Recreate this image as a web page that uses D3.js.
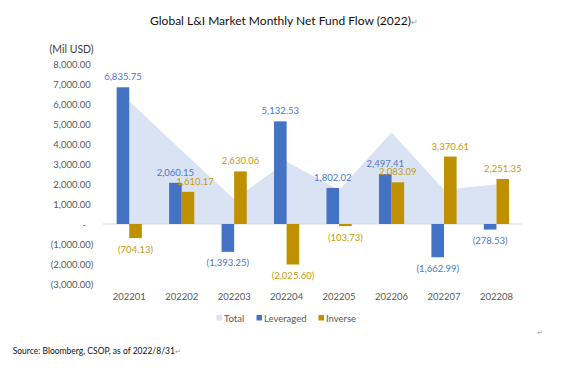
<!DOCTYPE html>
<html>
<head>
<meta charset="utf-8">
<script src="https://cdn.jsdelivr.net/npm/d3@7"></script>
<style>
  body { margin: 0; background: #fff; }
  svg text { font-family: Lato, "Noto Sans", sans-serif; }
</style>
</head>
<body>
<svg id="chart" width="570" height="375"></svg>
<script>
const months = ['202201', '202202', '202203', '202204', '202205', '202206', '202207', '202208'];
const leveraged = [6835.75, 2060.15, -1393.25, 5132.53, 1802.02, 2497.41, -1662.99, -278.53];
const inverse = [-704.13, 1610.17, 2630.06, -2025.60, -103.73, 2083.09, 3370.61, 2251.35];
const total = [6131.62, 3670.32, 1236.81, 3106.93, 1698.29, 4580.50, 1707.62, 1972.82];
const yTicks = [-3000, -2000, -1000, 0, 1000, 2000, 3000, 4000, 5000, 6000, 7000, 8000];

const BLUE = '#4472C4', GOLD = '#BF9000', AREA = '#DAE3F3';

const svg = d3.select('#chart');

const x0 = d3.scaleBand().domain(months).range([103, 522.7]).paddingInner(0.52).paddingOuter(0.26);
const x1 = d3.scaleBand().domain(['Leveraged', 'Inverse']).range([0, x0.bandwidth()]);
const y = d3.scaleLinear().domain([-3000, 8000]).range([284, 64]);

const fmt = d3.format(',.2f');
const numLabel = v => v < 0 ? `(${fmt(-v)})` : fmt(v);

// title
svg.append('text').attr('x', 284).attr('y', 25).attr('text-anchor', 'middle')
    .attr('font-size', 12).attr('fill', '#111')
    .text('Global L&I Market Monthly Net Fund Flow (2022)')
    .append('tspan').attr('fill', '#999').attr('font-size', 8).text('↵');

svg.append('text').attr('x', 49.5).attr('y', 53).attr('font-size', 10.5).attr('fill', '#404040').text('(Mil USD)');

// area (Total)
const area = d3.area()
    .x((d, i) => x0(months[i]) + x0.bandwidth() / 2)
    .y0(y(0))
    .y1(d => y(d));
svg.append('path').datum(total).attr('d', area).attr('fill', AREA);

// y tick labels
svg.append('g').selectAll('text').data(yTicks).join('text')
    .attr('x', d => d < 0 ? 93.3 : d === 0 ? 86 : 90.7)
    .attr('y', d => y(d) + 3.5)
    .attr('text-anchor', 'end')
    .attr('font-size', 9.5)
    .attr('fill', '#595959')
    .text(d => d === 0 ? '-' : numLabel(d));

// zero line
svg.append('line').attr('x1', 103).attr('x2', 522.7).attr('y1', y(0)).attr('y2', y(0))
    .attr('stroke', '#D9D9D9').attr('stroke-width', 1);

// bars
const rows = months.map((m, i) => ({ m, vals: [
    { k: 'Leveraged', v: leveraged[i], c: BLUE },
    { k: 'Inverse', v: inverse[i], c: GOLD }
]}));
const groups = svg.append('g').selectAll('g').data(rows).join('g')
    .attr('transform', d => `translate(${x0(d.m)},0)`);
groups.selectAll('rect').data(d => d.vals).join('rect')
    .attr('x', d => x1(d.k))
    .attr('width', x1.bandwidth())
    .attr('y', d => y(Math.max(0, d.v)))
    .attr('height', d => Math.abs(y(d.v) - y(0)))
    .attr('fill', d => d.c);
// labels; 202202 inverse label is nudged right like in the original
groups.selectAll('text').data(d => d.vals).join('text')
    .attr('x', d => x1(d.k) + x1.bandwidth() / 2 + (d.v === 1610.17 ? 7 : 0))
    .attr('y', d => d.v >= 0 ? y(d.v) - 7 : y(d.v) + 14.5)
    .attr('text-anchor', 'middle')
    .attr('font-size', 9.5)
    .attr('fill', d => d.k === 'Leveraged' ? '#4A78CC' : '#C49A0C')
    .text(d => numLabel(d.v));

// x axis labels
svg.append('g').selectAll('text').data(months).join('text')
    .attr('x', d => x0(d) + x0.bandwidth() / 2)
    .attr('y', 300)
    .attr('text-anchor', 'middle')
    .attr('font-size', 9.5)
    .attr('fill', '#595959')
    .text(d => d);

// legend
const legend = [
    { name: 'Total', c: AREA, x: 216.5 },
    { name: 'Leveraged', c: BLUE, x: 256.5 },
    { name: 'Inverse', c: GOLD, x: 318.5 }
];
const lg = svg.append('g').selectAll('g').data(legend).join('g')
    .attr('transform', d => `translate(${d.x},318)`);
lg.append('rect').attr('x', 0).attr('y', -3).attr('width', 5.5).attr('height', 5.5).attr('fill', d => d.c);
lg.append('text').attr('x', 7.5).attr('y', 3.5).attr('font-size', 9.5).attr('fill', '#595959').text(d => d.name);

svg.append('text').attr('x', 537).attr('y', 335).attr('font-size', 7).attr('fill', '#999').text('↵');

svg.append('text').attr('x', 12.7).attr('y', 354).attr('font-size', 8.5).attr('fill', '#111')
    .text('Source: Bloomberg, CSOP, as of 2022/8/31')
    .append('tspan').attr('fill', '#999').attr('font-size', 7).text('↵');
</script>
</body>
</html>
